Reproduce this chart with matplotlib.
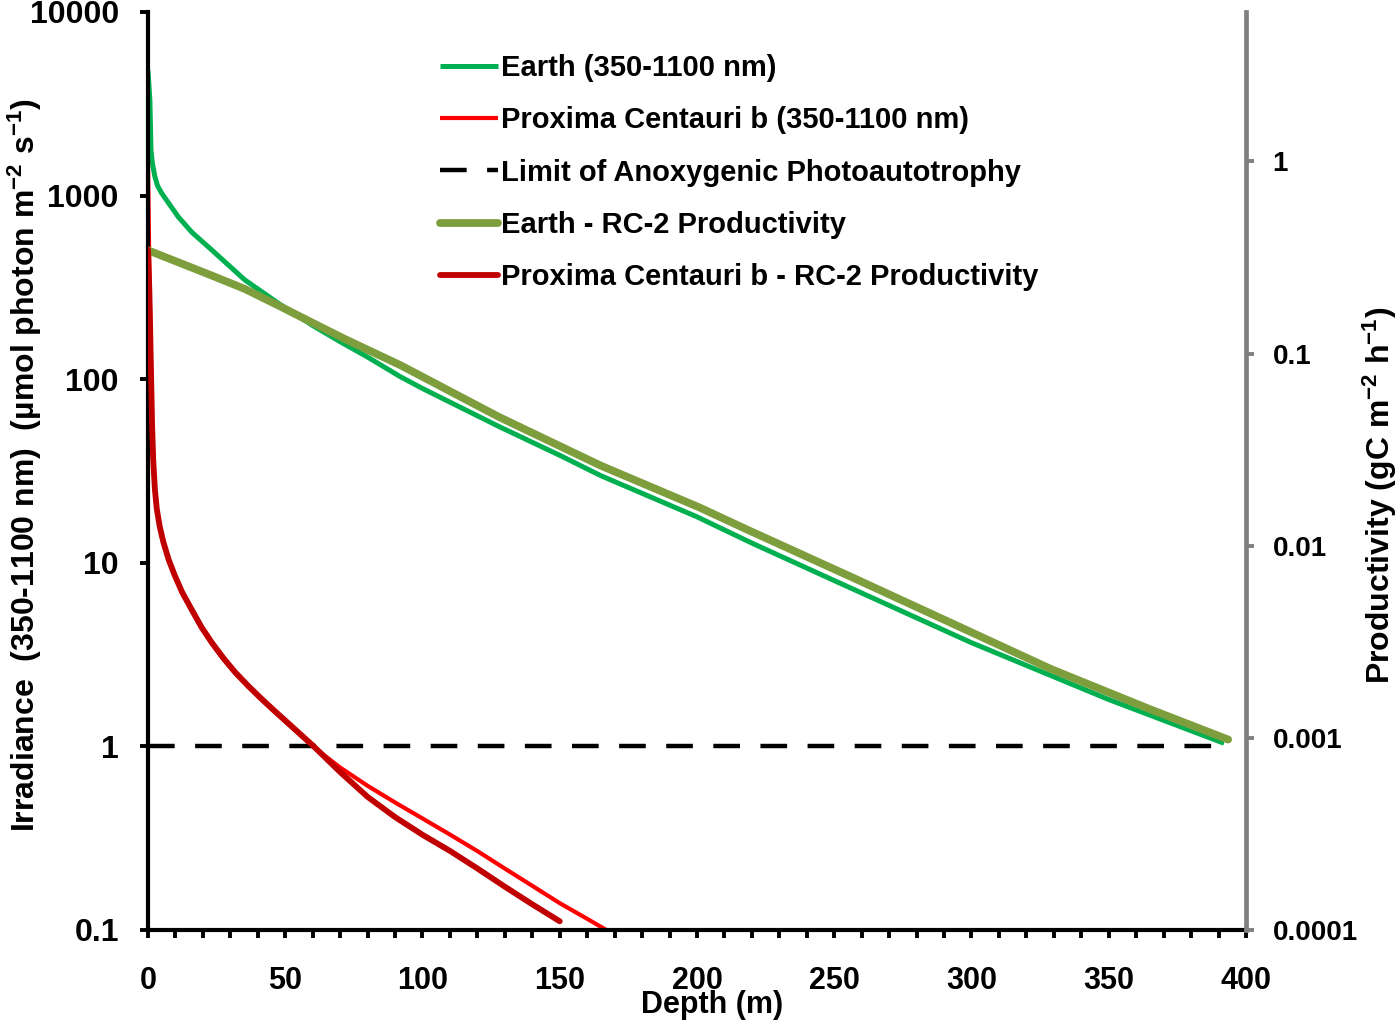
import matplotlib
matplotlib.use('Agg')
import matplotlib.pyplot as plt
from matplotlib.ticker import FixedLocator, MultipleLocator, NullLocator
import numpy as np

plt.rcParams['font.family'] = ['Liberation Sans', 'DejaVu Sans']
plt.rcParams['font.weight'] = 'bold'
plt.rcParams['mathtext.fontset'] = 'custom'
plt.rcParams['mathtext.rm'] = 'Liberation Sans:bold'
plt.rcParams['mathtext.bf'] = 'Liberation Sans:bold'
plt.rcParams['mathtext.default'] = 'bf'

# Earth irradiance 350-1100 nm (umol photon m-2 s-1), left axis
earth_depth = [0, 0.7, 1.1, 1.6, 2.5, 3.5, 5, 11, 16, 23.2, 35.3, 47.5, 60, 70, 80, 92, 100,
               128, 150, 165, 200, 220, 250, 300, 350, 392]
earth_irr = [4800, 3300, 1770, 1500, 1270, 1130, 1030, 767, 631, 506, 347, 259, 196, 160, 132,
             103, 89, 55.1, 38.5, 29.8, 17.8, 12.8, 8.0, 3.67, 1.8, 1.04]

# Proxima Centauri b irradiance 350-1100 nm, left axis
prox_depth = [0, 0.5, 1.0, 1.5, 1.9, 2.5, 3.2, 4.3, 5.6, 7.5, 9.8, 12.5, 15.9, 19.5, 23.2,
              27.4, 31.7, 36.5, 41.4, 46, 51.1, 60, 70, 80, 90, 100, 110, 120, 130, 140, 150,
              160, 167]
prox_irr = [1580, 400, 130, 55, 36, 25, 19.4, 15.5, 12.8, 10.3, 8.4, 6.8, 5.5, 4.4, 3.64,
            2.99, 2.51, 2.11, 1.79, 1.545, 1.32, 1.0, 0.767, 0.61, 0.495, 0.405, 0.331, 0.269,
            0.216, 0.174, 0.140, 0.115, 0.1]

# limit of anoxygenic photoautotrophy
limit_depth = [0, 393]
limit_irr = [1, 1]

# Earth RC-2 productivity (gC m-2 h-1), right axis
earth_prod_depth = [0, 11, 23.2, 35.3, 47.5, 59.6, 71.8, 92, 128, 165, 201, 219, 256, 292,
                    329, 365, 393.5]
earth_prod = [0.345, 0.299, 0.255, 0.217, 0.178, 0.1455, 0.119, 0.087, 0.0467, 0.0261,
              0.0158, 0.0120, 0.0069, 0.0040, 0.00228, 0.00141, 0.00098]

# Proxima Centauri b RC-2 productivity, right axis
prox_prod_depth = [0, 0.5, 1.0, 1.5, 1.9, 2.5, 3.2, 4.3, 5.6, 7.5, 9.8, 12.5, 15.9, 19.5,
                   23.2, 27.4, 31.7, 36.5, 41.4, 46, 51.1, 60, 70, 80, 90, 100, 110, 120,
                   130, 140, 150]
prox_prod = [0.347, 0.213, 0.0957, 0.0421, 0.0281, 0.0198, 0.01556, 0.01254, 0.01045,
             0.00849, 0.00698, 0.00571, 0.00466, 0.00377, 0.00314, 0.00261, 0.0022,
             0.001866, 0.001596, 0.001387, 0.001192, 0.000914, 0.000664, 0.000493,
             0.000387, 0.000313, 0.000258, 0.000209, 0.000168, 0.000136, 0.000111]

left_ticks = [0.1, 1, 10, 100, 1000, 10000]
left_labels = ['0.1', '1', '10', '100', '1000', '10000']
right_ticks = [0.0001, 0.001, 0.01, 0.1, 1]
right_labels = ['0.0001', '0.001', '0.01', '0.1', '1']

fig = plt.figure(figsize=(14, 10.25), dpi=100)
ax = fig.add_axes([0.1057, 0.0927, 0.7843, 0.8956])
ax2 = ax.twinx()

l1, = ax.plot(earth_depth, earth_irr, color='#00B050', lw=3.6, solid_capstyle='butt',
              solid_joinstyle='round', label='Earth (350-1100 nm)')
l2, = ax.plot(prox_depth, prox_irr, color='#FF0000', lw=3.0, solid_capstyle='butt',
              solid_joinstyle='round', label='Proxima Centauri b (350-1100 nm)')
l3, = ax.plot(limit_depth, limit_irr, color='black', lw=3.2, dashes=(6, 4.6),
              label='Limit of Anoxygenic Photoautotrophy')
l4, = ax2.plot(earth_prod_depth, earth_prod, color='#7E9E3E', lw=5.6, solid_capstyle='round',
               solid_joinstyle='round', label='Earth - RC-2 Productivity')
l5, = ax2.plot(prox_prod_depth, prox_prod, color='#C00000', lw=4.2, solid_capstyle='round',
               solid_joinstyle='round', label='Proxima Centauri b - RC-2 Productivity')

ax.set_xlim(0, 400)
ax.set_yscale('log')
ax.set_ylim(0.1, 10000)
ax2.set_yscale('log')
ax2.set_ylim(0.0001, 6.0)

ax.yaxis.set_major_locator(FixedLocator(left_ticks))
ax.set_yticklabels(left_labels)
ax.yaxis.set_minor_locator(NullLocator())
ax2.yaxis.set_major_locator(FixedLocator(right_ticks))
ax2.set_yticklabels(right_labels)
ax2.yaxis.set_minor_locator(NullLocator())
ax.xaxis.set_major_locator(MultipleLocator(50))
ax.xaxis.set_minor_locator(MultipleLocator(10))

for s in ['top', 'right']:
    ax.spines[s].set_visible(False)
for s in ['top', 'left', 'bottom']:
    ax2.spines[s].set_visible(False)
ax.spines['left'].set_linewidth(3.0)
ax.spines['bottom'].set_linewidth(3.0)
ax2.spines['right'].set_linewidth(3.4)
ax2.spines['right'].set_color('#808080')

ax.tick_params(axis='y', which='major', direction='out', length=6, width=2.8,
               labelsize=23, pad=15)
ax.tick_params(axis='x', which='both', direction='out', length=6, width=2.8,
               labelsize=22, pad=20)
ax2.tick_params(axis='y', which='major', direction='out', length=6, width=2.8,
                color='#808080', labelsize=20, pad=13)

ax.set_ylabel('Irradiance  (350-1100 nm)  (µmol photon m$^{-2}$ s$^{-1}$)',
              fontsize=23, fontweight='bold', va='center')
ax.yaxis.set_label_coords(-0.112, 0.506)
ax2.set_ylabel('Productivity (gC m$^{-2}$ h$^{-1}$)', fontsize=23, fontweight='bold',
               va='center')
ax2.yaxis.set_label_coords(1.122, 0.474)
ax.set_xlabel('Depth (m)', fontsize=22, fontweight='bold')
ax.xaxis.set_label_coords(0.5137, -0.082)
ax.xaxis.label.set_va('center')

ax2.legend(handles=[l1, l2, l3, l4, l5], loc='upper left', bbox_to_anchor=(0.266, 0.954),
           frameon=False, fontsize=21, handlelength=2.0, handletextpad=0.1,
           labelspacing=0.83, borderpad=0, borderaxespad=0)

fig.savefig('out.png', dpi=100)
